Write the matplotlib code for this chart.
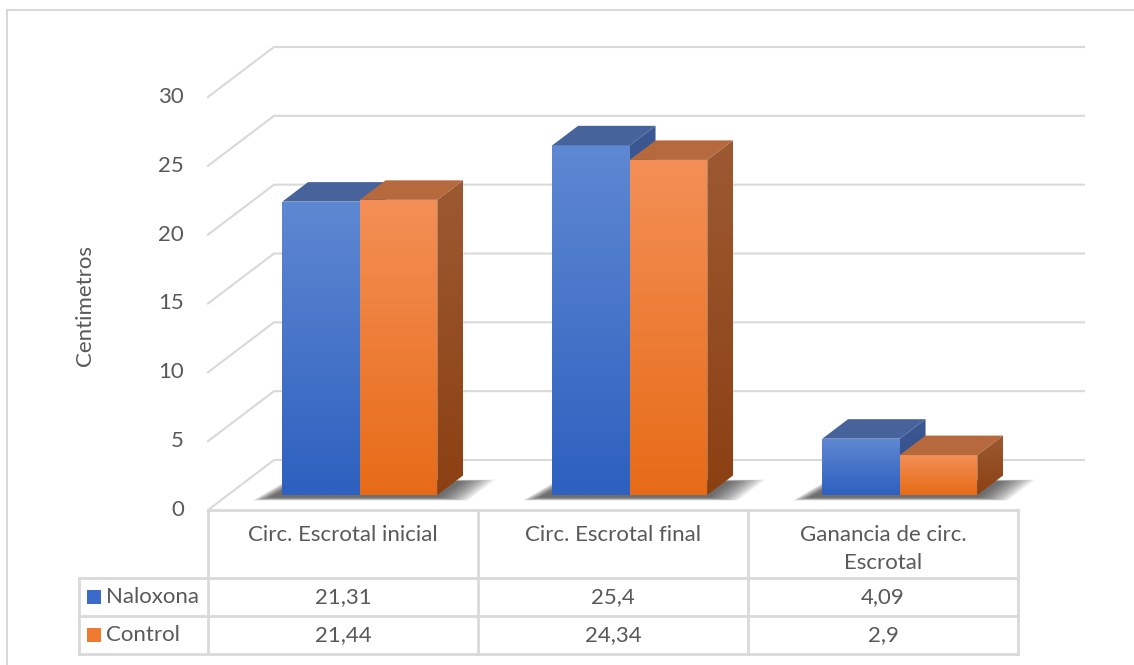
import matplotlib
matplotlib.use("Agg")
import matplotlib.pyplot as plt
import numpy as np
from matplotlib import transforms
from matplotlib.colors import LinearSegmentedColormap
from matplotlib.patches import Polygon, Rectangle

plt.rcParams["font.family"] = ["Lato", "DejaVu Sans"]

categories = ["Circ. Escrotal inicial", "Circ. Escrotal final", "Ganancia de circ.\nEscrotal"]
series = ["Naloxona", "Control"]
naloxona = [21.31, 25.4, 4.09]
control = [21.44, 24.34, 2.9]
value_labels = [["21,31", "25,4", "4,09"], ["21,44", "24,34", "2,9"]]
yticks = [0, 5, 10, 15, 20, 25, 30]

W, H = 1134, 665
TXT = "#595959"
GRID = "#d9d9d9"
FS = 16

# pixel layout of the front plane of the 3-D box
X0_PX, V0_PX = 208, 510          # left edge / zero line (px from top)
CAT_PX, V_PX = 270, 13.767       # px per category, px per unit value
DEPTH_PX = (66, 50)              # full depth offset, right and up

DX = DEPTH_PX[0] / CAT_PX
DY = DEPTH_PX[1] / V_PX

# (front, top, side) colour pairs (bottom -> top)
styles = [
    dict(front=("#2d60bf", "#5f88d2"), top="#47639b", side=("#2f4e8a", "#3c5893")),
    dict(front=("#e76b17", "#f38f56"), top="#b6693d", side=("#8c4012", "#9c5a32")),
]


def proj(x, v, d):
    return x + d * DX, v + d * DY


fig = plt.figure(figsize=(W / 100, H / 100), dpi=100)
ax = fig.add_axes([0, 0, 1, 1])
ax.axis("off")
xlim = (-X0_PX / CAT_PX, (W - X0_PX) / CAT_PX)
ylim = (-(H - V0_PX) / V_PX, V0_PX / V_PX)

# figure pixels measured from the top-left corner
px = transforms.Affine2D().scale(1 / W, -1 / H).translate(0, 1) + fig.transFigure
col_px = transforms.blended_transform_factory(ax.transData, px)

# outer chart border (top and left visible)
ax.plot([7, W], [10, 10], color=GRID, lw=1.5, transform=px, clip_on=False)
ax.plot([7, 7], [10, H], color=GRID, lw=1.5, transform=px, clip_on=False)

# gridlines: diagonal on the side wall, then along the back wall
ncat = len(categories)
for v in yticks:
    fx, fy = proj(0, v, 0)
    bx, by = proj(0, v, 1)
    ex, ey = proj(ncat, v, 1)
    ax.plot([fx, bx, ex], [fy, by, ey], color=GRID, lw=1.5, zorder=1)
    ax.text(-24 / CAT_PX, v, str(v), ha="right", va="center", fontsize=FS, color=TXT)

ax.text(85, 305, "Centimetros", rotation=90, ha="center", va="center",
        fontsize=FS, color=TXT, transform=px)


def gradient_fill(poly, extent, c0, c1, z):
    cmap = LinearSegmentedColormap.from_list("g", [c0, c1])
    grad = np.linspace(0, 1, 256)[:, None]
    im = ax.imshow(grad, cmap=cmap, extent=extent, origin="lower",
                   aspect="auto", zorder=z, interpolation="bilinear")
    patch = Polygon(poly, closed=True, facecolor="none", edgecolor="none", zorder=z)
    ax.add_patch(patch)
    im.set_clip_path(patch)


bar_w = 77.5 / CAT_PX
d0, d1 = 0.3, 0.69
nudge = 3 / CAT_PX

for i in range(ncat):
    left = i + 0.5 - bar_w - nudge
    # soft shadow on the floor under the pair of bars
    for m in np.linspace(0.12, 0.0, 20):
        sx0, sx1 = left - m * 0.4 - 0.035, left + 2 * bar_w + m + 0.02
        pts = [proj(sx0, 0, d0 - 0.05 - m * 0.5), proj(sx1, 0, d0 - 0.05 - m * 0.5),
               proj(sx1, 0, d1 - 0.12 + m * 0.3), proj(sx0 + 0.03, 0, d1 - 0.12 + m * 0.3)]
        ax.add_patch(Polygon(pts, closed=True, facecolor="#333333",
                             edgecolor="none", alpha=0.055, zorder=2))

    for s, vals in enumerate([naloxona, control]):
        st = styles[s]
        v = vals[i]
        xl = left + s * bar_w
        xr = xl + bar_w
        z = 3 + s
        # front face
        fl, fb = proj(xl, 0, d0)
        fr, ft = proj(xr, v, d0)
        front = [(fl, fb), (fr, fb), (fr, ft), (fl, ft)]
        gradient_fill(front, (fl, fr, fb, ft), *st["front"], z)
        # side face
        side = [proj(xr, 0, d0), proj(xr, 0, d1), proj(xr, v, d1), proj(xr, v, d0)]
        sx = [p[0] for p in side]
        sy = [p[1] for p in side]
        gradient_fill(side, (min(sx), max(sx), min(sy), max(sy)), *st["side"], z)
        # top face
        top = [proj(xl, v, d0), proj(xr, v, d0), proj(xr, v, d1), proj(xl, v, d1)]
        ax.add_patch(Polygon(top, closed=True, facecolor=st["top"],
                             edgecolor="none", zorder=z))

# data table
rows_px = [510, 578, 616, 654]
tab_left = (79 - X0_PX) / CAT_PX
for y in rows_px[1:]:
    ax.plot([tab_left, ncat], [y, y], color=GRID, lw=2, transform=col_px, clip_on=False)
ax.plot([0, ncat], [rows_px[0], rows_px[0]], color=GRID, lw=2, transform=col_px, clip_on=False)
ax.plot([tab_left, tab_left], [rows_px[1], rows_px[3]], color=GRID, lw=2,
        transform=col_px, clip_on=False)
for c in range(ncat + 1):
    ax.plot([c, c], [rows_px[0], rows_px[3]], color=GRID, lw=2, transform=col_px, clip_on=False)

for i, cat in enumerate(categories):
    for j, line in enumerate(cat.split("\n")):
        ax.text(i + 0.5, 535 + 28 * j, line, ha="center", va="center", fontsize=FS,
                color=TXT, transform=col_px)
    for r in range(2):
        yc = (rows_px[r + 1] + rows_px[r + 2]) / 2
        ax.text(i + 0.5, yc, value_labels[r][i], ha="center", va="center",
                fontsize=FS, color=TXT, transform=col_px)

key_colors = ["#3a6bc9", "#ef7b30"]
for r, name in enumerate(series):
    yc = (rows_px[r + 1] + rows_px[r + 2]) / 2
    ax.add_patch(Rectangle((87, yc - 7), 14, 14, facecolor=key_colors[r],
                           edgecolor="none", transform=px, clip_on=False))
    ax.text(106, yc, name, ha="left", va="center", fontsize=FS, color=TXT, transform=px)

ax.set_xlim(*xlim)
ax.set_ylim(*ylim)
fig.savefig("out.png", dpi=100)
